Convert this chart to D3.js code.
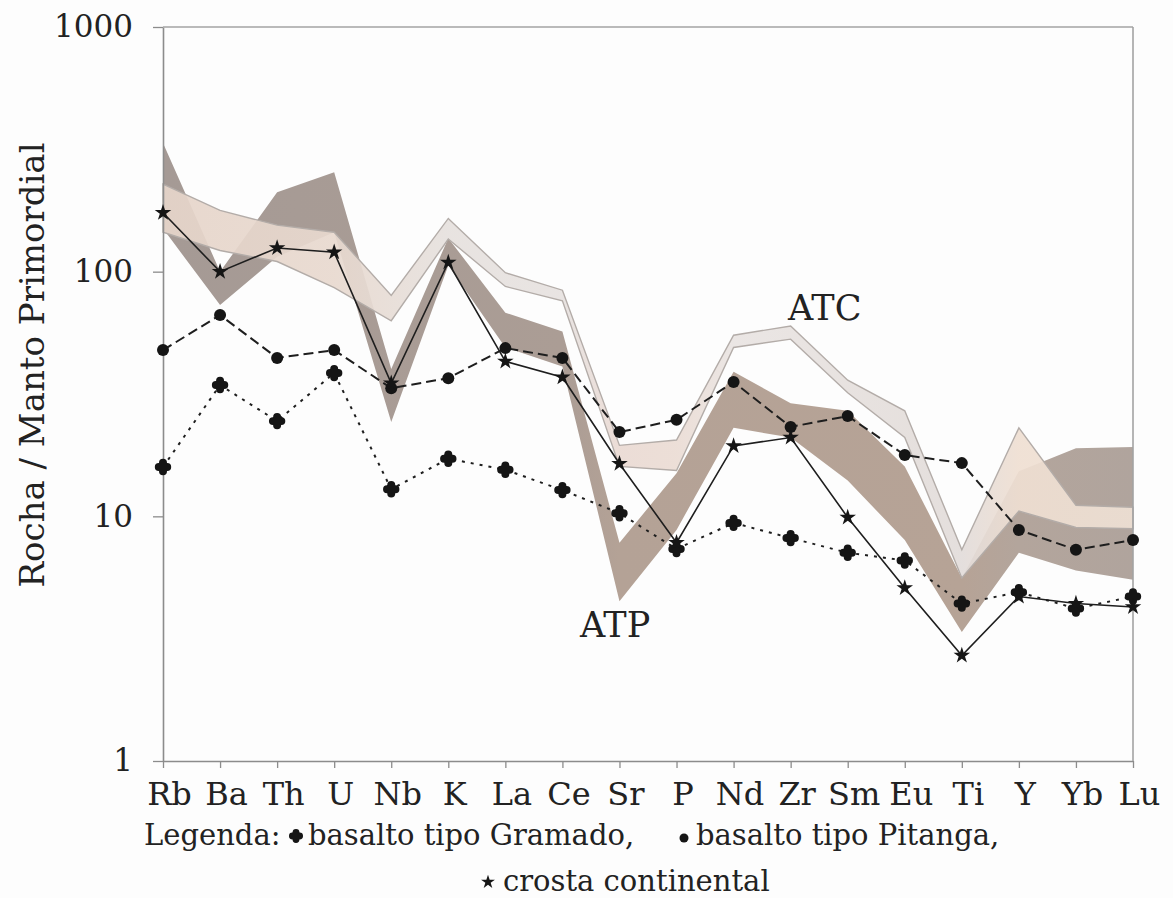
<!DOCTYPE html>
<html>
<head>
<meta charset="utf-8">
<script src="https://cdn.jsdelivr.net/npm/d3@7"></script>
<style>
  body { margin: 0; background: #ffffff; }
  svg { display: block; }
  text { font-family: "DejaVu Serif", serif; fill: #222; }
</style>
</head>
<body>
<svg id="chart" width="1173" height="898"></svg>
<script>
// Spider diagram: rock / primordial mantle, elements ordered by incompatibility
const elements = ["Rb","Ba","Th","U","Nb","K","La","Ce","Sr","P","Nd","Zr","Sm","Eu","Ti","Y","Yb","Lu"];
const yTickValues = [1, 10, 100, 1000];

// Reference samples
const crosta  = [174, 100, 125, 120, 35, 109, 43, 37, 16.4, 7.8, 19.4, 21, 9.9, 5.1, 2.7, 4.7, 4.4, 4.26];
const pitanga = [47.8, 66.5, 44.4, 47.8, 33.4, 36.7, 48.7, 44.4, 22.1, 24.8, 35.4, 23.2, 25.7, 17.8, 16.5, 8.8, 7.3, 8.0];
const gramado = [15.9, 34.4, 24.5, 38.5, 12.9, 17.2, 15.5, 12.8, 10.3, 7.35, 9.4, 8.15, 7.1, 6.6, 4.4, 4.9, 4.2, 4.7];

// Compositional fields (lower and upper envelopes)
const atpLow  = [150, 73, 115, 145, 24.3, 106, 49, 41, 4.5, 8.8, 23, 21, 14, 8, 3.37, 7.1, 6.0, 5.5];
const atpHigh = [336, 100, 211, 255, 40, 137, 68, 57, 7.8, 15, 39, 29, 27, 16, 5.6, 15.3, 19, 19.2];
const atcLow  = [145, 122, 110, 86, 63, 136, 87, 76, 16, 15.4, 49, 53, 32, 21, 5.6, 10.5, 9.0, 8.9];
const atcHigh = [228, 178, 155, 145, 80, 165, 99, 84, 19.5, 20.5, 55, 60, 36, 27, 7.3, 23, 11.1, 10.9];

const legendText = ["Legenda:", "basalto tipo Gramado,", "basalto tipo Pitanga,", "crosta continental"];

const svg = d3.select("#chart");
const W = 1173, H = 898;
const plot = { left: 163, right: 1133, top: 27, bottom: 761 };

svg.append("rect").attr("width", W).attr("height", H).attr("fill", "#fdfdfd");

const x = d3.scalePoint().domain(elements).range([plot.left, plot.right]);
const y = d3.scaleLog().domain([1, 1000]).range([plot.bottom, plot.top]);

// horizontal gradients give the fields their changing tint
const defs = svg.append("defs");
function gradient(id, stops) {
  const g = defs.append("linearGradient").attr("id", id)
    .attr("gradientUnits", "userSpaceOnUse")
    .attr("x1", plot.left).attr("x2", plot.right).attr("y1", 0).attr("y2", 0);
  stops.forEach(([el, c]) => {
    g.append("stop")
      .attr("offset", (x(el) - plot.left) / (plot.right - plot.left))
      .attr("stop-color", c);
  });
}
gradient("atpFill", [["Rb", "#a59a95"], ["Ce", "#ab9d95"], ["Sr", "#b4a296"], ["Ti", "#b6a396"], ["Y", "#b3a59c"], ["Lu", "#b0a49d"]]);
gradient("atcFill", [["Rb", "#e6d5ca"], ["U", "#e8d9cf"], ["K", "#e6e1de"], ["Ce", "#e7e2e0"], ["Sr", "#eadad3"], ["P", "#ebdcd4"], ["Nd", "#e9e4e2"], ["Eu", "#e4dedb"], ["Ti", "#e2dcda"], ["Y", "#efdfd2"], ["Lu", "#eee0d4"]]);

function band(low, high) {
  return d3.area()
    .x((d, i) => x(elements[i]))
    .y0((d, i) => y(low[i]))
    .y1((d, i) => y(high[i]))(elements);
}

const fields = svg.append("g");
fields.append("path")
  .attr("d", band(atpLow, atpHigh))
  .attr("fill", "url(#atpFill)");
fields.append("path")
  .attr("d", band(atcLow, atcHigh))
  .attr("fill", "url(#atcFill)")
  .attr("fill-opacity", 0.92)
  .attr("stroke", "#b3aca8")
  .attr("stroke-width", 1.4)
  .attr("stroke-linejoin", "miter");

// field labels
svg.append("text").attr("x", 788).attr("y", 320).attr("font-size", 35).text("ATC");
svg.append("text").attr("x", 580).attr("y", 637).attr("font-size", 35).text("ATP");

// axes
const axisColor = "#8c8c8c";
const yAxis = svg.append("g")
  .attr("transform", `translate(${plot.left},0)`)
  .call(d3.axisLeft(y).tickValues(yTickValues).tickFormat(d3.format("d"))
        .tickSize(10).tickSizeOuter(0).tickPadding(20));
yAxis.selectAll("text").attr("font-size", 31).attr("fill", "#222")
  .attr("font-family", "DejaVu Serif, serif");

const xAxis = svg.append("g")
  .attr("transform", `translate(0,${plot.bottom})`)
  .call(d3.axisBottom(x).tickSize(7).tickSizeOuter(0).tickPadding(14));
xAxis.selectAll("text").attr("font-size", 32).attr("fill", "#222").attr("dx", 6)
  .attr("font-family", "DejaVu Serif, serif");

[yAxis, xAxis].forEach(a => {
  a.select(".domain").attr("stroke", axisColor).attr("stroke-width", 1.6);
  a.selectAll(".tick line").attr("stroke", axisColor).attr("stroke-width", 1.3);
});

// top and right frame
svg.append("line").attr("x1", plot.left).attr("x2", plot.right)
  .attr("y1", y(1000)).attr("y2", y(1000)).attr("stroke", "#a3a3a3").attr("stroke-width", 1.6);
svg.append("line").attr("x1", plot.right).attr("x2", plot.right)
  .attr("y1", y(1000)).attr("y2", y(1)).attr("stroke", "#a3a3a3").attr("stroke-width", 1.6);

// y axis title
svg.append("text")
  .attr("transform", "translate(44,365) rotate(-90)")
  .attr("text-anchor", "middle")
  .attr("font-size", 34)
  .text("Rocha / Manto Primordial");

// marker shapes
const starPath = s => d3.symbol().type(d3.symbolStar).size(s)();
const cloverPath = r => {
  const p = d3.path();
  [[r, 0], [-r, 0], [0, r], [0, -r]].forEach(([dx, dy]) => {
    p.moveTo(dx + r * 0.95, dy);
    p.arc(dx, dy, r * 0.95, 0, 2 * Math.PI);
  });
  p.rect(-r * 0.9, -r * 0.9, r * 1.8, r * 1.8);
  return p.toString();
};

const line = d3.line().x((d, i) => x(elements[i])).y(d => y(d));

function series(values, dash, width, marker) {
  const g = svg.append("g");
  g.append("path").attr("d", line(values)).attr("fill", "none")
    .attr("stroke", "#1e1e1e").attr("stroke-width", width)
    .attr("stroke-dasharray", dash);
  g.selectAll(".m").data(values).join(marker === "circle" ? "circle" : "path")
    .each(function (d, i) {
      const s = d3.select(this).attr("fill", "#151515");
      if (marker === "circle") s.attr("cx", x(elements[i])).attr("cy", y(d)).attr("r", 6);
      else s.attr("transform", `translate(${x(elements[i])},${y(d)})`)
            .attr("d", marker === "star" ? starPath(85) : cloverPath(4.2));
    });
}
series(gramado, "3,6", 2, "clover");
series(pitanga, "10,5", 2, "circle");
series(crosta, null, 1.6, "star");

// legend
const leg = svg.append("g").attr("font-size", 29);
leg.append("text").attr("x", 144).attr("y", 845).text(legendText[0]);
leg.append("path").attr("transform", "translate(296,836)").attr("d", cloverPath(3.6)).attr("fill", "#151515");
leg.append("text").attr("x", 308).attr("y", 845).text(legendText[1]);
leg.append("circle").attr("cx", 684).attr("cy", 838).attr("r", 4.5).attr("fill", "#151515");
leg.append("text").attr("x", 696).attr("y", 845).text(legendText[2]);
leg.append("path").attr("transform", "translate(488,882)").attr("d", starPath(60)).attr("fill", "#151515");
leg.append("text").attr("x", 503).attr("y", 891).text(legendText[3]);
</script>
</body>
</html>
